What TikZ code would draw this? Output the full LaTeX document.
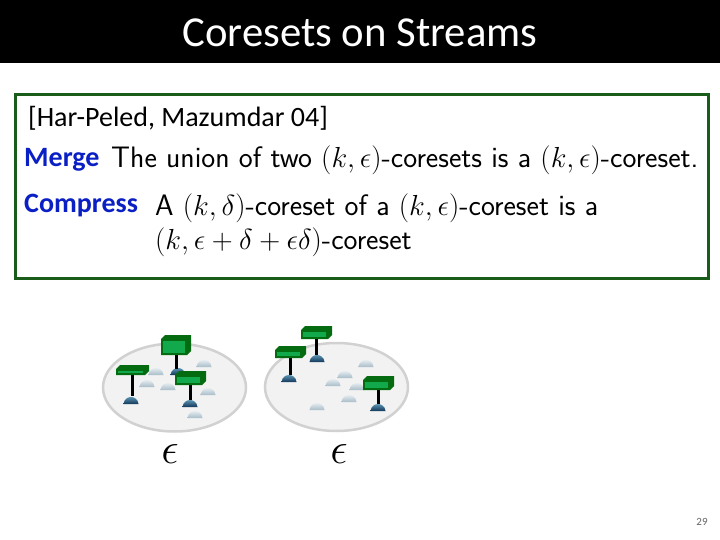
\RequirePackage{fix-cm}
\documentclass[tikz,border=0pt]{standalone}
\usepackage{fontspec}
\newfontfamily\titlefont{Carlito}
\DeclareMathSizes{29.6}{29}{20}{15}
\DeclareMathSizes{44}{44}{30}{22}
\definecolor{framegreen}{HTML}{1A5C1A}
\definecolor{boxdark}{HTML}{056B10}
\definecolor{boxbright}{HTML}{12A84C}
\definecolor{mergeblue}{HTML}{0A1FC4}
\definecolor{greytop}{HTML}{E4ECF0}
\definecolor{greybot}{HTML}{A9BCC8}
\definecolor{darktop}{HTML}{5A93B0}
\definecolor{darkbot}{HTML}{12375A}
\tikzset{
  bodytext/.style={anchor=base west,inner sep=0pt,font=\sffamily\fontsize{29.6}{34}\selectfont},
  keyword/.style={anchor=base west,inner sep=0pt,text=mergeblue,font=\titlefont\bfseries\fontsize{28}{33}\selectfont},
  cite/.style={anchor=base west,inner sep=0pt,font=\titlefont\fontsize{28}{33}\selectfont},
  disc/.style={draw=black!18,line width=2.5pt,fill=black!5},
  pole/.style={line width=3pt,black},
  eps/.style={inner sep=0pt,font=\fontsize{44}{50}\selectfont}
}
\newcommand{\domepath}[2]{(#1-7.5,#2+3) .. controls (#1-7,#2-2) and (#1-3,#2-4) .. (#1,#2-4) .. controls (#1+3,#2-4) and (#1+7,#2-2) .. (#1+7.5,#2+3) -- cycle}
\newcommand{\greydome}[2]{\path[top color=greytop,bottom color=greybot] \domepath{#1}{#2};}
\newcommand{\darkdome}[2]{\path[top color=darktop,bottom color=darkbot] \domepath{#1}{#2};}
\newcommand{\sensorbox}[4]{%
  \fill[boxdark] (#1,#2) -- ++(4,-4) -- ++(#3,0) -- ++(0,#4) -- ++(-4,4) -- ++(-#3,0) -- cycle;
  \fill[boxbright] (#1+2,#2+2) rectangle ++(#3-4,#4-4);}
\begin{document}
\begin{tikzpicture}[x=1pt,y=-1pt]
\useasboundingbox (0,0) rectangle (720,540);
\fill[white] (0,0) rectangle (720,540);
\fill[black] (0,0) rectangle (720,63);
\node[text=white,inner sep=0pt,font=\titlefont\fontsize{42.7}{48}\selectfont] (title) at (360,33) {Coresets on Streams};
\node[draw=framegreen,line width=3pt,minimum width=693pt,minimum height=183pt,inner sep=0pt,anchor=north west] (frame) at (13.5,93.5) {};
\node[cite] (cite) at (28,127) {[Har-Peled, Mazumdar 04]};
\node[keyword] (merge) at (24,167) {Merge};
\node[bodytext] (union) at (111,168) {The union of two $(k,\epsilon)$-coresets is a $(k,\epsilon)$-coreset.};
\node[keyword] (compress) at (24,213) {Compress};
\node[bodytext] (coreset) at (155,215) {A $(k,\delta)$-coreset of a $(k,\epsilon)$-coreset is a};
\node[bodytext] (result) at (155,249) {$(k,\epsilon+\delta+\epsilon\delta)$-coreset};
% left disc
\draw[disc] (174.5,387.5) ellipse[x radius=71.5,y radius=44];
\foreach \a/\b in {156/372,147/384,168/387,204/364,208/392,195/415} {\greydome{\a}{\b}}
\foreach \a/\b in {131/401,178/372,190/404} {\darkdome{\a}{\b}}
\draw[pole] (132,373) -- (132,396);
\draw[pole] (176,354) -- (176,369);
\draw[pole] (190,384) -- (190,400);
\sensorbox{116}{369}{29}{6}
\sensorbox{161}{339}{26}{16}
\sensorbox{175}{375}{27}{10}
% right disc
\draw[disc] (336.5,387) ellipse[x radius=71.5,y radius=44];
\foreach \a/\b in {366/364,345/375,333/383,357/387,349/399,317/407} {\greydome{\a}{\b}}
\foreach \a/\b in {317/359,289/379,378/408} {\darkdome{\a}{\b}}
\draw[pole] (316,338) -- (316,355);
\draw[pole] (290,357) -- (290,375);
\draw[pole] (378,389) -- (378,404);
\sensorbox{301}{330}{27}{9}
\sensorbox{275}{350}{27}{8}
\sensorbox{363}{380}{27}{10}
\node[eps] (e1) at (170,454) {$\epsilon$};
\node[eps] (e2) at (339,454) {$\epsilon$};
\node[text=black!60,inner sep=0pt,font=\titlefont\fontsize{11}{13}\selectfont] (page) at (702,522) {29};
\end{tikzpicture}
\end{document}
